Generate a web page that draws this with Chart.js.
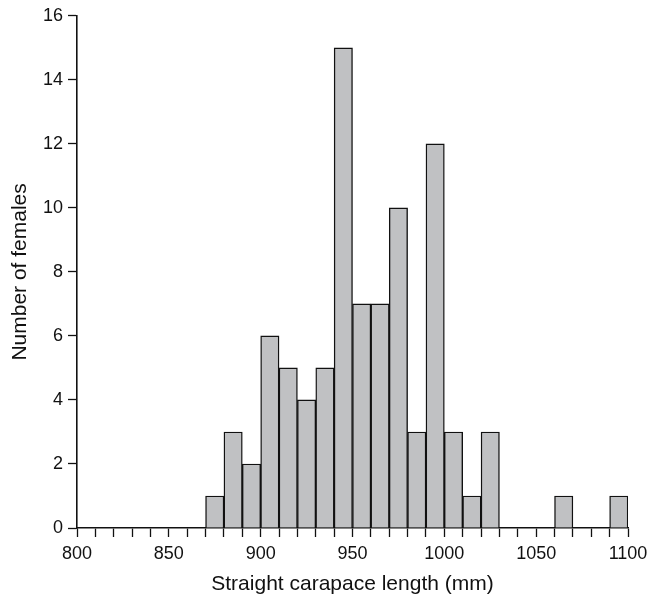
<!DOCTYPE html>
<html>
<head>
<meta charset="utf-8">
<script src="https://cdn.jsdelivr.net/npm/chart.js@4/dist/chart.umd.min.js"></script>
<style>
  html, body { margin: 0; padding: 0; background: #fff; }
  #wrap { width: 648px; height: 601px; }
</style>
</head>
<body>
<div id="wrap"><canvas id="hist"></canvas></div>
<script>
// bin centres (10 mm bins from 800 to 1100)
var binCenters = [805, 815, 825, 835, 845, 855, 865, 875, 885, 895,
                  905, 915, 925, 935, 945, 955, 965, 975, 985, 995,
                  1005, 1015, 1025, 1035, 1045, 1055, 1065, 1075, 1085, 1095];
var females = [0, 0, 0, 0, 0, 0, 0, 1, 3, 2,
               6, 5, 4, 5, 15, 7, 7, 10, 3, 12,
               3, 1, 3, 0, 0, 0, 1, 0, 0, 1];
var xTickLabels = [800, 850, 900, 950, 1000, 1050, 1100];
var yTicks = [0, 2, 4, 6, 8, 10, 12, 14, 16];

var points = binCenters.map(function (c, i) { return { x: c, y: females[i] }; });

var font = "'Liberation Sans', Arial, Helvetica, sans-serif";

var ctx = document.getElementById("hist").getContext("2d");
var histChart = new Chart(ctx, {
    type: "bar",
    data: {
        datasets: [{
            data: points,
            backgroundColor: "#c0c1c3",
            borderColor: "#111",
            borderWidth: 1.4,
            barPercentage: 1,
            categoryPercentage: 1
        }]
    },
    options: {
        responsive: true,
        maintainAspectRatio: false,
        animation: false,
        layout: { padding: { top: 15, right: 20, left: 0, bottom: 0 } },
        plugins: {
            legend: { display: false },
            tooltip: { enabled: false }
        },
        scales: {
            x: {
                type: "linear",
                min: 800,
                max: 1100,
                offset: false,
                grid: { drawOnChartArea: false, offset: false, tickLength: 9, tickColor: "#111", tickWidth: 1.3 },
                border: { display: true, color: "#111", width: 1.6 },
                ticks: {
                    stepSize: 10,
                    autoSkip: false,
                    maxTicksLimit: 40,
                    maxRotation: 0,
                    padding: 6,
                    color: "#111",
                    font: { family: font, size: 18 },
                    callback: function (v) { return xTickLabels.indexOf(v) >= 0 ? v : ""; }
                },
                title: {
                    display: true,
                    text: "Straight carapace length (mm)",
                    color: "#111",
                    font: { family: font, size: 21 },
                    padding: { top: 6 }
                },
                afterFit: function (s) {
                    s.height = 73;
                    s.paddingLeft = 0;
                    s.paddingRight = 0;
                }
            },
            y: {
                min: 0,
                max: 16,
                grid: { drawOnChartArea: false, tickLength: 9, tickColor: "#111", tickWidth: 1.3 },
                border: { display: true, color: "#111", width: 1.6 },
                ticks: {
                    stepSize: 2,
                    padding: 5,
                    color: "#111",
                    font: { family: font, size: 18 },
                    callback: function (v) { return yTicks.indexOf(v) >= 0 ? v : ""; }
                },
                title: {
                    display: true,
                    text: "Number of females",
                    color: "#111",
                    font: { family: font, size: 21 },
                    padding: { top: 8, bottom: 6 }
                },
                afterFit: function (s) { s.width = 77; }
            }
        }
    }
});
</script>
</body>
</html>
